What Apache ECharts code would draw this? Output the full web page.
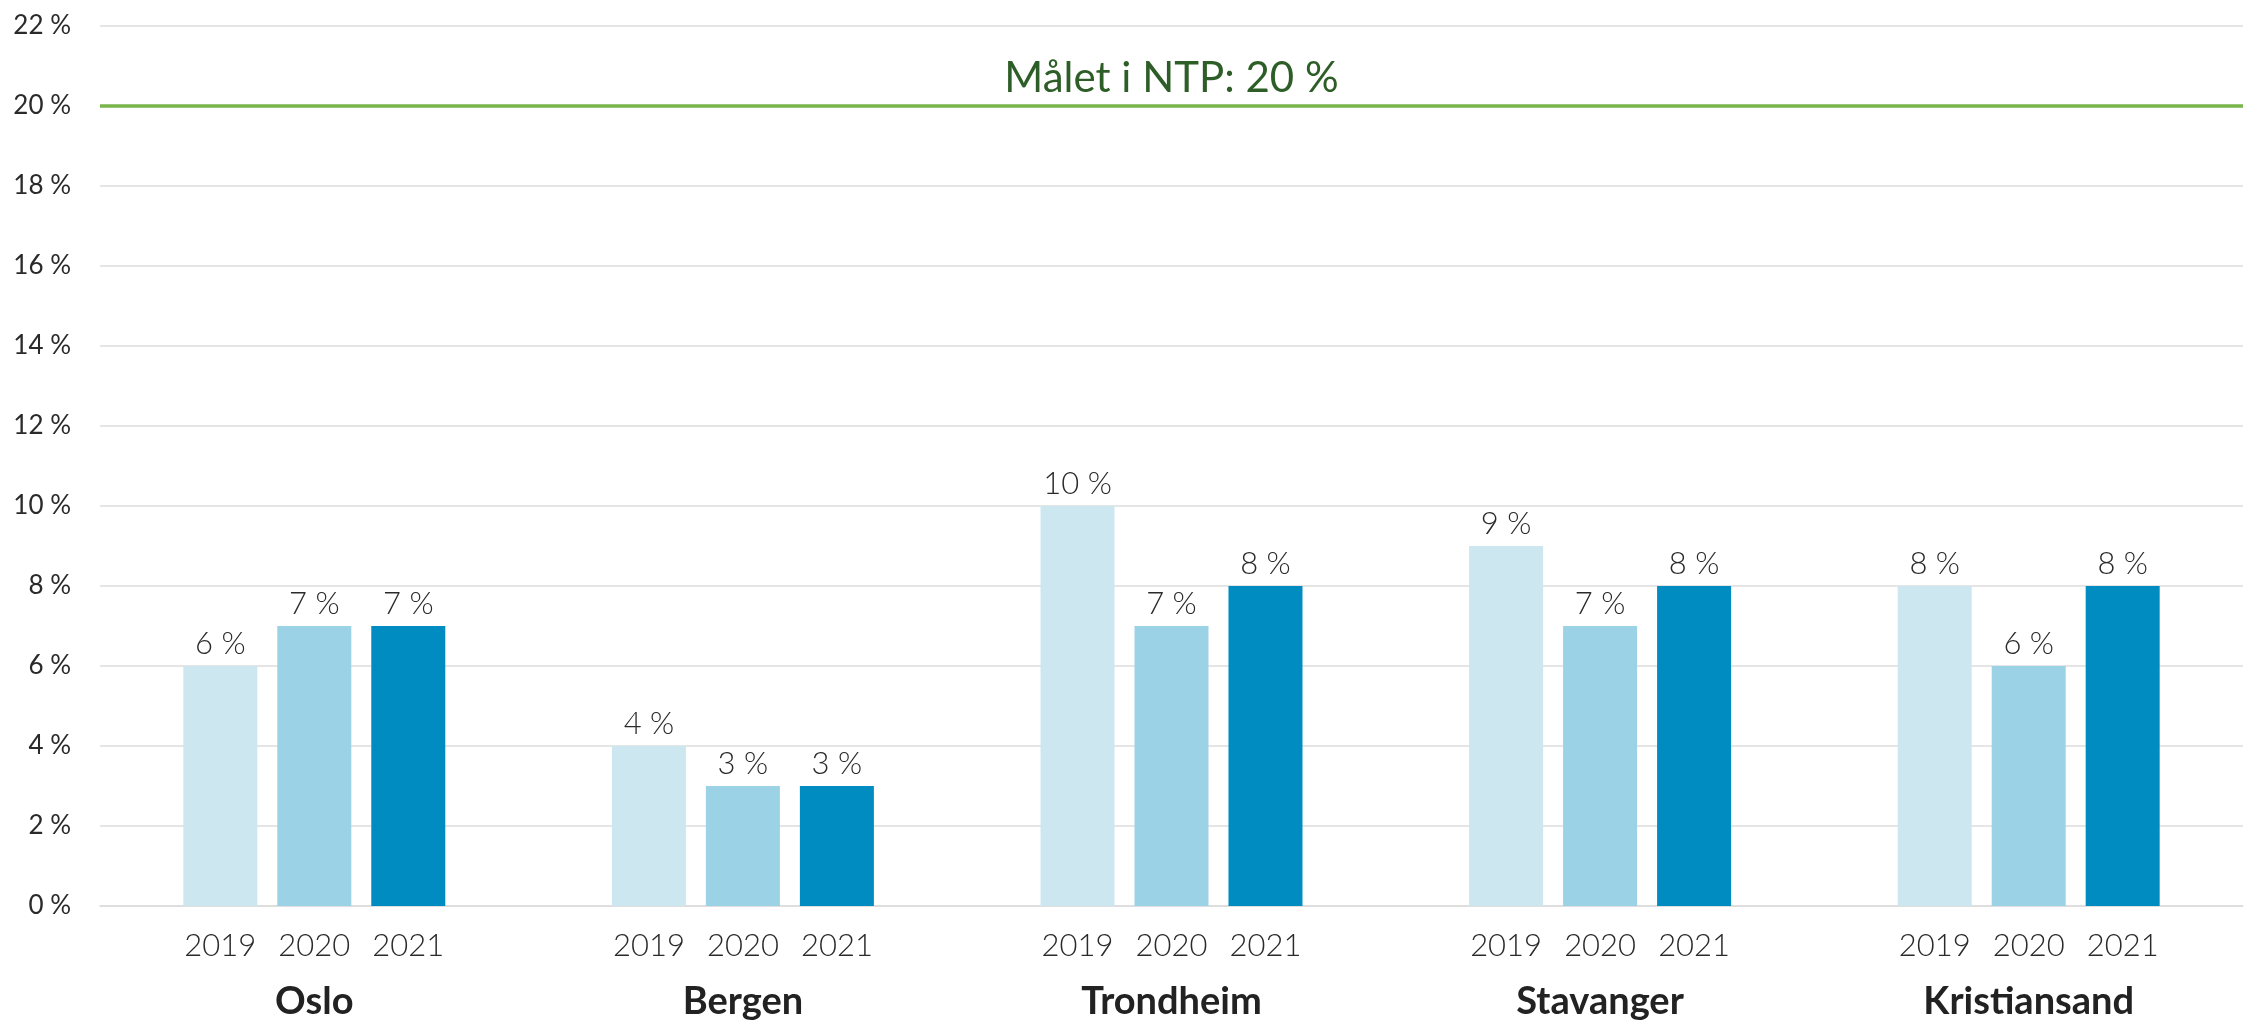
<!DOCTYPE html>
<html>
<head>
<meta charset="utf-8">
<script src="https://cdn.jsdelivr.net/npm/echarts@6/dist/echarts.min.js"></script>
<style>
  html, body { margin: 0; padding: 0; background: #fff; }
  #chart { width: 2244px; height: 1020px; }
</style>
</head>
<body>
<div id="chart"></div>
<script>
// byer og år
const cities = ['Oslo', 'Bergen', 'Trondheim', 'Stavanger', 'Kristiansand'];
const years = ['2019', '2020', '2021'];
// andel per år (prosent)
const values2019 = [6, 4, 10, 9, 8];
const values2020 = [7, 3, 7, 7, 6];
const values2021 = [7, 3, 8, 8, 8];
const yTicks = { min: 0, max: 22, interval: 2 };
const target = 20;
const targetLabel = 'Målet i NTP: 20 %';

const colors = ['#cde7f1', '#9cd2e5', '#008cc1'];
const font = 'Lato, "Open Sans", sans-serif';

const chart = echarts.init(document.getElementById('chart'));

// én serie per år
const yearData = [values2019, values2020, values2021];
const series = years.map((y, i) => ({
    name: y,
    type: 'bar',
    data: yearData[i],
    barWidth: 74,
    barGap: '27%',
    itemStyle: { color: colors[i] },
    label: {
        show: true,
        position: 'top',
        distance: 7,
        formatter: '{c} %',
        fontFamily: font,
        fontWeight: 300,
        fontSize: 31,
        color: '#2a2a2a'
    }
}));
// mållinje
series[0].markLine = {
    silent: true,
    symbol: 'none',
    data: [{ yAxis: target }],
    lineStyle: { color: '#78b54a', width: 3.5, type: 'solid' },
    label: {
        show: true,
        position: 'insideMiddleTop',
        distance: 7,
        formatter: targetLabel,
        fontFamily: font,
        fontSize: 42,
        color: '#2e5e27'
    }
};

const option = {
    animation: false,
    grid: { left: 100, right: 1, top: 26, bottom: 114, outerBoundsMode: 'none' },
    xAxis: {
        type: 'category',
        data: cities,
        axisLine: { show: true, lineStyle: { color: '#dcdcdc', width: 1.5 } },
        axisTick: { show: false },
        axisLabel: {
            margin: 20,
            formatter: function (c) {
                return years.map(y => '{y|' + y + '}').join('') + '\n{c|' + c + '}';
            },
            rich: {
                y: { width: 94, align: 'center', lineHeight: 40, fontSize: 31, fontWeight: 300, fontFamily: font, color: '#2a2a2a' },
                c: { width: 282, align: 'center', lineHeight: 72, fontSize: 38, fontWeight: 'bold', fontFamily: font, color: '#222' }
            }
        }
    },
    yAxis: {
        type: 'value',
        min: yTicks.min,
        max: yTicks.max,
        interval: yTicks.interval,
        axisLine: { show: false },
        axisTick: { show: false },
        splitLine: { lineStyle: { color: '#dcdcdc', width: 1.5 } },
        axisLabel: {
            margin: 29,
            formatter: '{value} %',
            fontFamily: font,
            fontSize: 26,
            color: '#2a2a2a'
        }
    },
    series: series
};

chart.setOption(option);
</script>
</body>
</html>
